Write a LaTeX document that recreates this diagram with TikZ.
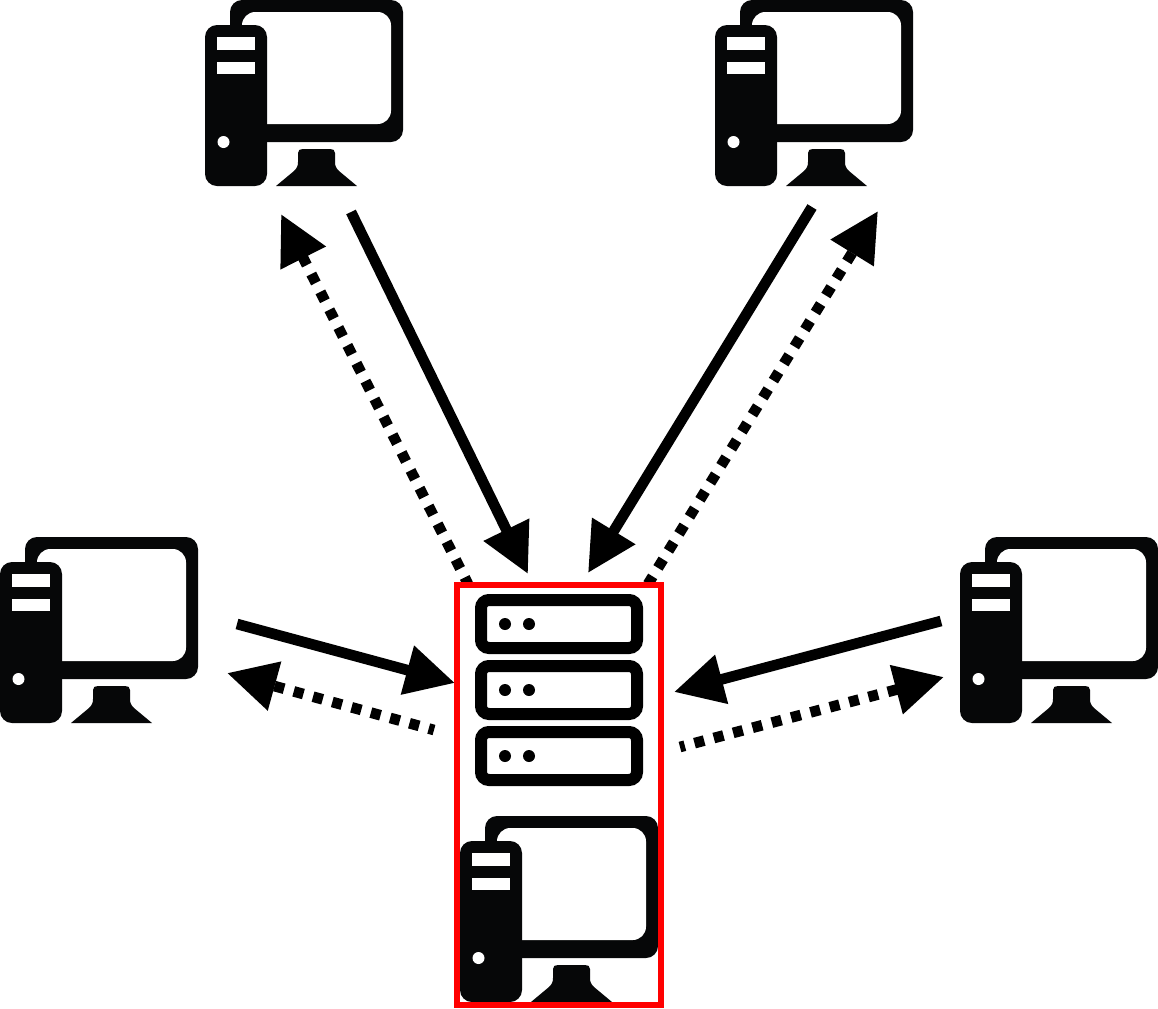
\documentclass[tikz,border=0pt]{standalone}
\usetikzlibrary{arrows.meta}
\definecolor{ink}{HTML}{060708}
\definecolor{boxred}{HTML}{FF0000}
\tikzset{
  x=0.75pt,y=-0.75pt,
  solidarrow/.style={draw=black,line width=8pt,-{Triangle[length=37pt,width=36pt]}},
  dotarrow/.style={draw=black,line width=8pt,dash pattern=on 7.5pt off 7.5pt,dash phase=#1,-{Triangle[length=37pt,width=36pt]}},
  redbox/.style={draw=boxred,line width=4.5pt,outer sep=0pt,inner sep=0pt},
  serverbar/.style={draw=black,line width=9pt,fill=white,rounded corners=6pt},
  computer/.pic={
    \fill[ink,rounded corners=9pt] (25,0) rectangle (198,142);
    \fill[white,rounded corners=10pt] (37,12) rectangle (186,124);
    \fill[ink,rounded corners=9pt] (0,25) rectangle (62,186);
    \fill[white] (12,37) rectangle (50,50);
    \fill[white] (12,62) rectangle (50,74);
    \fill[white] (18.5,142) circle (6);
    \fill[ink] (71,186) -- (89,171) .. controls (92,168) and (93,166) .. (93,162)
      -- (93,153) .. controls (93,150) and (95,149) .. (98,149)
      -- (125,149) .. controls (128,149) and (130,150) .. (130,153)
      -- (130,162) .. controls (130,166) and (131,168) .. (134,171) -- (152,186) -- cycle;
  },
  serverunit/.pic={
    \draw[serverbar] (481,6) rectangle (637,54);
    \fill[black] (505,30) circle (6);
    \fill[black] (529,30) circle (6);
  }
}
\begin{document}
\begin{tikzpicture}
\useasboundingbox (0,0) rectangle (1158,1008);
\fill[white] (0,0) rectangle (1158,1008);
\pic (pcnw) at (205,0) {computer};
\pic (pcne) at (715,0) {computer};
\pic (pcw) at (0,537) {computer};
\pic (pce) at (960,537) {computer};
\pic (pcs) at (460,816) {computer};
\pic (srva) at (0,594) {serverunit};
\pic (srvb) at (0,660) {serverunit};
\pic (srvc) at (0,726) {serverunit};
\coordinate (a1) at (351,212); \coordinate (a2) at (528,574);
\coordinate (b1) at (812,207); \coordinate (b2) at (588,573);
\coordinate (c1) at (237,624); \coordinate (c2) at (455,683);
\coordinate (d1) at (941,621); \coordinate (d2) at (674,692);
\coordinate (e1) at (468,584); \coordinate (e2) at (281,214);
\coordinate (f1) at (648,584); \coordinate (f2) at (878,211);
\coordinate (g1) at (434,730); \coordinate (g2) at (227,673);
\coordinate (h1) at (680,747); \coordinate (h2) at (944,677);
\draw[solidarrow] (a1) -- (a2);
\draw[solidarrow] (b1) -- (b2);
\draw[solidarrow] (c1) -- (c2);
\draw[solidarrow] (d1) -- (d2);
\draw[dotarrow=2pt] (e1) -- (e2);
\draw[dotarrow=0.8pt] (f1) -- (f2);
\draw[dotarrow=3.4pt] (g1) -- (g2);
\draw[dotarrow=3.75pt] (h1) -- (h2);
\node[redbox,minimum width=153pt,minimum height=315pt,anchor=north west] (frame) at (457,585) {};
\end{tikzpicture}
\end{document}
